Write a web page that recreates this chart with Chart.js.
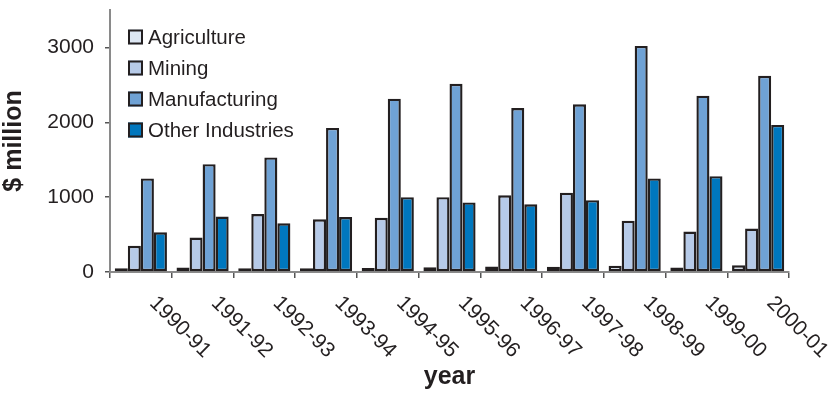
<!DOCTYPE html>
<html>
<head>
<meta charset="utf-8">
<script src="https://cdn.jsdelivr.net/npm/chart.js@4/dist/chart.umd.min.js"></script>
<style>
    html, body { margin: 0; padding: 0; background: #fff; }
    #wrap { width: 829px; height: 395px; }
</style>
</head>
<body>
<div id="wrap"><canvas id="chart" width="829" height="395"></canvas></div>
<script>
    const years = ['1990-91', '1991-92', '1992-93', '1993-94', '1994-95', '1995-96',
        '1996-97', '1997-98', '1998-99', '1999-00', '2000-01'];
    const agriculture = [50, 60, 50, 50, 55, 65, 75, 70, 85, 60, 90];
    const mining = [350, 460, 775, 705, 725, 1000, 1025, 1060, 685, 540, 580];
    const manufacturing = [1250, 1440, 1530, 1925, 2315, 2515, 2190, 2240, 3020, 2355, 2620];
    const otherIndustries = [530, 740, 650, 735, 1000, 930, 905, 960, 1250, 1280, 1965];
    const yTicks = [0, 1000, 2000, 3000];

    const FONT = '"Liberation Sans", Arial, Helvetica, sans-serif';
    const INK = '#231f20';

    function series(label, data, color) {
        return {
            label: label,
            data: data,
            backgroundColor: color,
            borderColor: INK,
            borderWidth: 2.4,
            borderSkipped: false,
            categoryPercentage: 0.845,
            barPercentage: 1.0
        };
    }

    // legend boxes sit inside the plot, top left
    const innerLegend = {
        id: 'innerLegend',
        afterDraw(chart) {
            const ctx = chart.ctx;
            const area = chart.chartArea;
            ctx.save();
            ctx.font = '20.5px ' + FONT;
            ctx.textBaseline = 'middle';
            ctx.textAlign = 'left';
            chart.data.datasets.forEach((ds, i) => {
                const x = area.left + 18;
                const y = area.top + 27 + i * 31;
                ctx.fillStyle = ds.backgroundColor;
                ctx.fillRect(x, y - 7.5, 15, 15);
                ctx.lineWidth = 2;
                ctx.strokeStyle = INK;
                ctx.strokeRect(x + 1, y - 6.5, 13, 13);
                ctx.fillStyle = INK;
                ctx.fillText(ds.label, x + 20, y + 1);
            });
            ctx.restore();
        }
    };

    // year labels run down to the right from each category
    const slantLabels = {
        id: 'slantLabels',
        afterDraw(chart) {
            const ctx = chart.ctx;
            const xs = chart.scales.x;
            ctx.save();
            ctx.font = '21px ' + FONT;
            ctx.fillStyle = INK;
            ctx.textAlign = 'left';
            ctx.textBaseline = 'middle';
            chart.data.labels.forEach((lab, i) => {
                const px = xs.getPixelForValue(i) + 12;
                const py = xs.top + 28;
                ctx.save();
                ctx.translate(px, py);
                ctx.rotate(Math.PI / 4);
                ctx.fillText(lab, 0, 0);
                ctx.restore();
            });
            ctx.restore();
        }
    };

    new Chart(document.getElementById('chart'), {
        type: 'bar',
        data: {
            labels: years,
            datasets: [
                series('Agriculture', agriculture, '#dde7f3'),
                series('Mining', mining, '#b6cae8'),
                series('Manufacturing', manufacturing, '#6fa2d5'),
                series('Other Industries', otherIndustries, '#0077be')
            ]
        },
        options: {
            responsive: false,
            animation: false,
            layout: { padding: { top: 0, right: 40, bottom: 0, left: 0 } },
            plugins: {
                legend: { display: false },
                tooltip: { enabled: false }
            },
            scales: {
                x: {
                    afterFit(scale) { scale.height = 123; },
                    border: { color: '#8a8a8a', width: 2 },
                    grid: {
                        drawOnChartArea: false,
                        drawTicks: true,
                        tickLength: 6,
                        color: '#555',
                        lineWidth: 1.5,
                        offset: true
                    },
                    ticks: { display: false },
                    title: {
                        display: true,
                        text: 'year',
                        color: INK,
                        font: { family: FONT, size: 25, weight: 'bold', lineHeight: 1.2 },
                        padding: { top: 0, bottom: 3 }
                    }
                },
                y: {
                    min: 0,
                    max: 3500,
                    afterFit(scale) {
                        scale.width = 110;
                        scale.paddingTop = 10;
                    },
                    afterBuildTicks(scale) {
                        scale.ticks = yTicks.map(v => ({ value: v }));
                    },
                    border: { color: '#8a8a8a', width: 2 },
                    grid: {
                        drawOnChartArea: false,
                        drawTicks: true,
                        tickLength: 5,
                        color: '#555',
                        lineWidth: 1.5
                    },
                    ticks: {
                        color: INK,
                        padding: 11,
                        font: { family: FONT, size: 21, lineHeight: 0.9 },
                        callback: v => String(v)
                    },
                    title: {
                        display: true,
                        text: '$ million',
                        color: INK,
                        font: { family: FONT, size: 25, weight: 'bold', lineHeight: 1 },
                        padding: { top: 1.5, bottom: 0 }
                    }
                }
            }
        },
        plugins: [innerLegend, slantLabels]
    });
</script>
</body>
</html>
